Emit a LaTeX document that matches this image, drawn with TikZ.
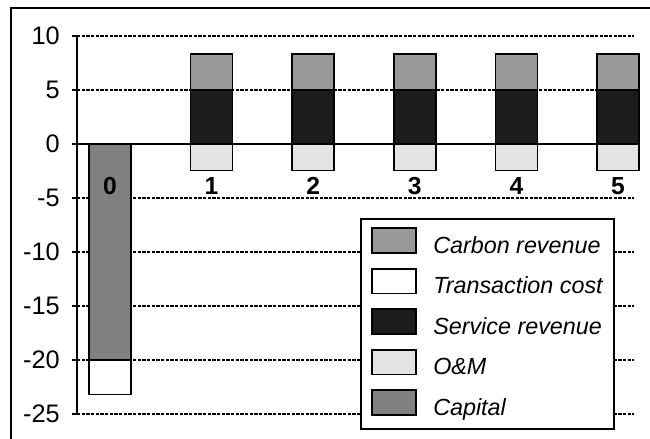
\documentclass[tikz,border=0pt]{standalone}
\usepackage{fontspec}
\setmainfont{Liberation Sans}
\definecolor{carbon}{gray}{0.6}
\definecolor{service}{gray}{0.11}
\definecolor{om}{gray}{0.89}
\definecolor{capital}{gray}{0.5}
\begin{document}
\begin{tikzpicture}[x=76.2pt,y=8.1pt,
        grid/.style={line width=.8pt,dash pattern=on 2.5pt off 1pt},
        axis/.style={line width=1.1pt},
        bar/.style={draw=black,line width=1.2pt},
        ticklabel/.style={anchor=base east,inner sep=0pt,font=\fontsize{19}{22}\selectfont},
        yearlabel/.style={anchor=base,inner sep=0pt,font=\fontsize{18.5}{21}\selectfont\bfseries},
        legtext/.style={anchor=base west,inner sep=0pt,font=\fontsize{17.5}{20}\selectfont\itshape}]
        \useasboundingbox (-1.0827,-27.315) rectangle (5.315,13.333);
        \draw [axis] (-0.974,-27.315) -- (-0.974,12.593) -- (5.315,12.593);
        % grid and ticks
        \foreach \v in {10,5,-5,-10,-15,-20,-25} {
            \draw [grid] (-0.325,\v) -- (5.157,\v);
            \draw [axis] (-0.374,\v) -- (-0.325,\v);
            \node [ticklabel] (t\v) at (-0.492,\v-0.82) {\v};
        }
        \node [ticklabel] (t0) at (-0.492,-0.82) {0};
        \draw [axis] (-0.374,0) -- (5.217,0);
        \draw [axis] (-0.325,10) -- (-0.325,-25);
        % year 0
        \filldraw [bar,fill=capital] (-0.207,0) rectangle (0.207,-20);
        \filldraw [bar,fill=white] (-0.207,-20) rectangle (0.207,-23.2);
        \node [yearlabel] (y0) at (0,-4.72) {0};
        % years 1 to 5
        \foreach \i in {1,...,5} {
            \filldraw [bar,fill=om] (\i-0.207,-2.47) rectangle (\i+0.207,0);
            \filldraw [bar,fill=service] (\i-0.207,0) rectangle (\i+0.207,5);
            \filldraw [bar,fill=carbon] (\i-0.207,5) rectangle (\i+0.207,8.33);
            \node [yearlabel] (y\i) at (\i,-4.72) {\i};
        }
        % legend
        \filldraw [axis,fill=white] (2.470,-6.944) rectangle (4.961,-26.39);
        \foreach \c/\t [count=\k] in {carbon/Carbon revenue,white/Transaction cost,service/Service revenue,om/O\&M,capital/Capital} {
            \pgfmathsetmacro\yy{-8.94-3.75*(\k-1)}
            \filldraw [bar,fill=\c] (2.579,\yy-1.135) rectangle (3.012,\yy+1.135);
            \node [legtext] (leg\k) at (3.179,\yy-1.16) {\t};
        }
    \end{tikzpicture}
\end{document}
